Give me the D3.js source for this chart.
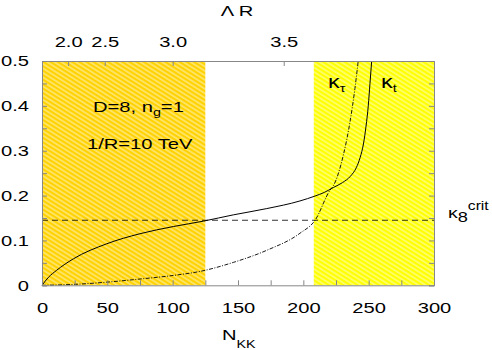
<!DOCTYPE html>
<html>
<head>
<meta charset="utf-8">
<script src="https://cdn.jsdelivr.net/npm/d3@7"></script>
<style>
    body { margin: 0; background: #fff; }
    text { font-family: "Liberation Sans", Arial, sans-serif; fill: #000; }
</style>
</head>
<body>
<div id="chart"></div>
<script>

// kappa_t (solid) vs N_KK
var kappaTN   = [0, 5, 11, 24, 49.5, 75, 100.5, 123.5, 146.4, 172, 197.4, 209, 216, 223, 230, 236, 240.5, 243.5, 246, 248, 249.7, 251, 252.3];
var kappaTVal = [0, 0.018, 0.033, 0.059, 0.0925, 0.115, 0.131, 0.143, 0.157, 0.171, 0.188, 0.199, 0.207, 0.218, 0.229, 0.243, 0.262, 0.285, 0.315, 0.355, 0.4, 0.45, 0.5];

// kappa_tau (dash-dot) vs N_KK
var kappaTauN   = [0, 24, 49.5, 75, 100.5, 121, 146.4, 172, 197.4, 209, 220.4, 223, 230.6, 235.7, 239.5, 242];
var kappaTauVal = [0, 0.002, 0.007, 0.014, 0.022, 0.031, 0.051, 0.078, 0.116, 0.145, 0.212, 0.222, 0.29, 0.364, 0.439, 0.5];

var kappaCrit = 0.145;

// shaded (excluded) N_KK ranges
var lowBand  = [0, 125];
var highBand = [208, 300];

var xTicks = [0, 50, 100, 150, 200, 250, 300];
var yTicks = [0, 0.1, 0.2, 0.3, 0.4, 0.5];

// top axis: Lambda R labels and the N_KK where they sit
var lambdaLabels = ["2.0", "2.5", "3.0", "3.5"];
var lambdaN      = [20, 48, 100, 185];

var width = 492, height = 350;
var margin = {left: 42, right: 58, top: 61, bottom: 65};
var stretch = 1.3;   // the original lettering is wide

var svg = d3.select("#chart").append("svg")
        .attr("width", width)
        .attr("height", height);

var x = d3.scaleLinear().domain([0, 300]).range([margin.left, width - margin.right]);
var y = d3.scaleLinear().domain([0, 0.5]).range([height - margin.bottom + 0.3, margin.top]);

var defs = svg.append("defs");
function hatch(id, colour) {
    var p = defs.append("pattern")
            .attr("id", id)
            .attr("patternUnits", "userSpaceOnUse")
            .attr("width", 8).attr("height", 3.8)
            .attr("patternTransform", "rotate(32)");
    p.append("rect").attr("width", 8).attr("height", 3.8).attr("fill", colour);
    p.append("line")
            .attr("x1", 0).attr("y1", 1).attr("x2", 8).attr("y2", 1)
            .attr("stroke", "#fff").attr("stroke-width", 0.9).attr("stroke-opacity", 0.85);
}
hatch("hatchLow", "#ffd200");
hatch("hatchHigh", "#ffff00");

svg.append("rect")
        .attr("x", x(lowBand[0])).attr("y", y(0.5))
        .attr("width", x(lowBand[1]) - x(lowBand[0]))
        .attr("height", y(0) - y(0.5))
        .attr("fill", "url(#hatchLow)");
svg.append("rect")
        .attr("x", x(highBand[0])).attr("y", y(0.5))
        .attr("width", x(highBand[1]) - x(highBand[0]))
        .attr("height", y(0) - y(0.5))
        .attr("fill", "url(#hatchHigh)");

// critical coupling
svg.append("line")
        .attr("x1", x(0)).attr("x2", x(300))
        .attr("y1", y(kappaCrit)).attr("y2", y(kappaCrit))
        .attr("stroke", "#000").attr("stroke-width", 0.8)
        .attr("stroke-dasharray", "6,4");

var line = d3.line()
        .x(function(d) { return x(d[0]); })
        .y(function(d) { return y(d[1]); })
        .curve(d3.curveMonotoneX);

svg.append("path")
        .datum(d3.zip(kappaTN, kappaTVal))
        .attr("d", line)
        .attr("fill", "none").attr("stroke", "#000").attr("stroke-width", 1);

svg.append("path")
        .datum(d3.zip(kappaTauN, kappaTauVal))
        .attr("d", line)
        .attr("fill", "none").attr("stroke", "#000").attr("stroke-width", 0.9)
        .attr("stroke-dasharray", "4,1.5,1,1.5");

// axes, ticks pointing inward
var frame = "#888";
var gBottom = svg.append("g")
        .attr("transform", "translate(0," + y(0) + ")")
        .call(d3.axisBottom(x).tickValues(d3.range(0, 301, 25)).tickSize(-5).tickPadding(17)
              .tickFormat(function(d) { return xTicks.indexOf(d) >= 0 ? d : ""; }));
var gLeft = svg.append("g")
        .attr("transform", "translate(" + x(0) + ",0)")
        .call(d3.axisLeft(y).tickValues(d3.range(0, 0.51, 0.05)).tickSize(-5).tickPadding(10)
              .tickFormat(function(d) {
                  var r = Math.round(d * 100) / 100;
                  return yTicks.indexOf(r) >= 0 ? (r === 0 ? "0" : d3.format(".1f")(r)) : "";
              }));
var gRight = svg.append("g")
        .attr("transform", "translate(" + x(300) + ",0)")
        .call(d3.axisRight(y).tickValues(d3.range(0, 0.51, 0.05)).tickSize(-5).tickFormat(""));
var gTop = svg.append("g")
        .attr("transform", "translate(0," + y(0.5) + ")")
        .call(d3.axisTop(x).tickValues(lambdaN).tickSize(-5).tickPadding(14.5)
              .tickFormat(function(d, i) { return lambdaLabels[i]; }));

[gBottom, gLeft, gRight, gTop].forEach(function(g) {
    g.select(".domain").attr("stroke", frame);
    g.selectAll(".tick line").attr("stroke", frame);
    g.selectAll("text")
            .style("font-size", "15.5px")
            .attr("fill", "#000")
            .attr("transform", "scale(" + stretch + ",1)");
});

// wide text placed at (px, py)
function label(px, py, size) {
    return svg.append("text")
            .attr("transform", "translate(" + px + "," + py + ") scale(" + stretch + ",1)")
            .style("font-size", size + "px");
}

// axis titles
var nkk = label(222, 340, 15.5);
nkk.append("tspan").text("N");
nkk.append("tspan").attr("dy", 8).style("font-size", "11px").text("KK");

label(237, 16, 15.5).attr("text-anchor", "middle").text("\u039B R");

// annotations
var t1 = label(93, 112, 15.5);
t1.append("tspan").text("D=8, n");
t1.append("tspan").attr("dy", 4).style("font-size", "11px").text("g");
t1.append("tspan").attr("dy", -4).text("=1");

label(87, 149, 15.5).text("1/R=10 TeV");

var kTau = label(328, 88, 18);
kTau.append("tspan").text("\u03BA");
kTau.append("tspan").attr("dy", 4).style("font-size", "11px").text("\u03C4");

var kT = label(381, 88, 18);
kT.append("tspan").text("\u03BA");
kT.append("tspan").attr("dy", 4).style("font-size", "11px").text("t");

var kCrit = label(448, 218, 15);
kCrit.append("tspan").text("\u03BA");
kCrit.append("tspan").attr("dy", 4).style("font-size", "14px").text("8");
kCrit.append("tspan").attr("dy", -12).style("font-size", "12px").text("crit");

</script>
</body>
</html>
